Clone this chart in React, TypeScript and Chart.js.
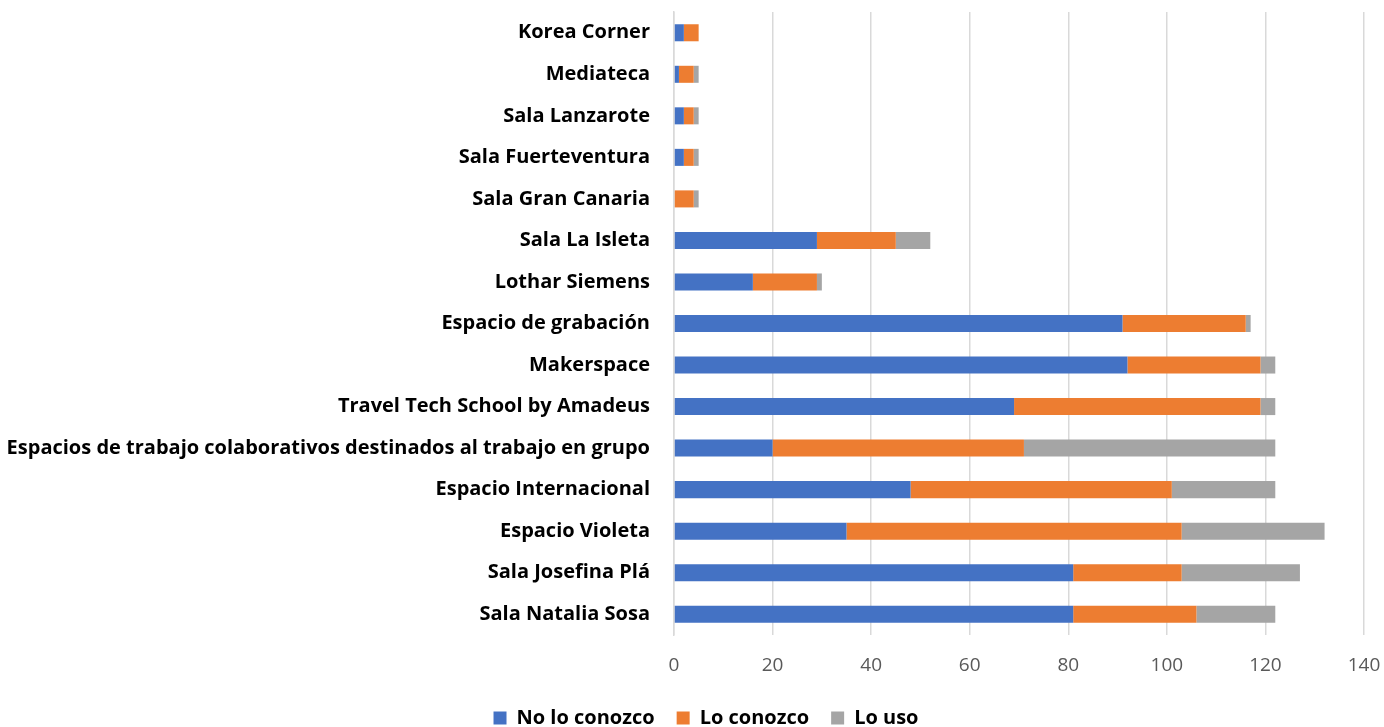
import React, { useEffect, useRef } from "react";
import { Chart, registerables } from "chart.js";

Chart.register(...registerables);

const categories = [
  "Korea Corner",
  "Mediateca",
  "Sala Lanzarote",
  "Sala Fuerteventura",
  "Sala Gran Canaria",
  "Sala La Isleta",
  "Lothar Siemens",
  "Espacio de grabación",
  "Makerspace",
  "Travel Tech School by Amadeus",
  "Espacios de trabajo colaborativos destinados al trabajo en grupo",
  "Espacio Internacional",
  "Espacio Violeta",
  "Sala Josefina Plá",
  "Sala Natalia Sosa",
];

const noLoConozco = [2, 1, 2, 2, 0, 29, 16, 91, 92, 69, 20, 48, 35, 81, 81];
const loConozco = [3, 3, 2, 2, 4, 16, 13, 25, 27, 50, 51, 53, 68, 22, 25];
const loUso = [0, 1, 1, 1, 1, 7, 1, 1, 3, 3, 51, 21, 29, 24, 16];

const xTicks = [0, 20, 40, 60, 80, 100, 120, 140];

const FONT = "'Open Sans', 'Noto Sans', sans-serif";

const legendShift = {
  id: "legendShift",
  afterLayout(chart: any) {
    const l = chart.legend;
    if (l) {
      l.left += 14;
      l.right += 14;
    }
  },
};

export default function App() {
  const ref = useRef<HTMLCanvasElement | null>(null);

  useEffect(() => {
    if (!ref.current) return;
    const chart = new Chart(ref.current, {
      type: "bar",
      data: {
        labels: categories,
        datasets: [
          { label: "No lo conozco", data: noLoConozco, backgroundColor: "#4472C4" },
          { label: "Lo conozco", data: loConozco, backgroundColor: "#ED7D31" },
          { label: "Lo uso", data: loUso, backgroundColor: "#A5A5A5" },
        ],
      },
      plugins: [legendShift],
      options: {
        indexAxis: "y",
        animation: false,
        responsive: false,
        maintainAspectRatio: false,
        datasets: { bar: { barPercentage: 0.41, categoryPercentage: 1 } },
        layout: { padding: { top: 11, right: 0, left: 0, bottom: -11 } },
        scales: {
          x: {
            stacked: true,
            min: 0,
            max: 140,
            afterBuildTicks: (s: any) => {
              s.ticks = xTicks.map((v) => ({ value: v }));
            },
            afterFit: (s: any) => {
              s.height = 51;
              s.paddingRight = 20;
              s.paddingLeft = 0;
            },
            grid: { color: "#D9D9D9", lineWidth: 1.5, drawTicks: false },
            border: { display: false },
            ticks: {
              color: "#595959",
              padding: 19,
              font: { family: FONT, size: 19 },
            },
          },
          y: {
            stacked: true,
            afterFit: (s: any) => {
              s.width = 674;
            },
            grid: { display: false, drawTicks: true, tickLength: 24 },
            border: { display: true, color: "#D9D9D9", width: 1.5 },
            ticks: {
              color: "#000000",
              padding: 0,
              autoSkip: false,
              font: { family: FONT, size: 20, weight: "bold" },
            },
          },
        },
        plugins: {
          tooltip: { enabled: false },
          legend: {
            position: "bottom",
            labels: {
              color: "#000000",
              boxWidth: 13,
              boxHeight: 13,
              padding: 22,
              font: { family: FONT, size: 20, weight: "bold" },
            },
          },
        },
      },
    });
    return () => chart.destroy();
  }, []);

  return (
    <div style={{ position: "fixed", left: 0, top: 0, width: 1384, height: 727, background: "#fff" }}>
      <canvas ref={ref} width={1384} height={727} style={{ width: 1384, height: 727 }} />
    </div>
  );
}
